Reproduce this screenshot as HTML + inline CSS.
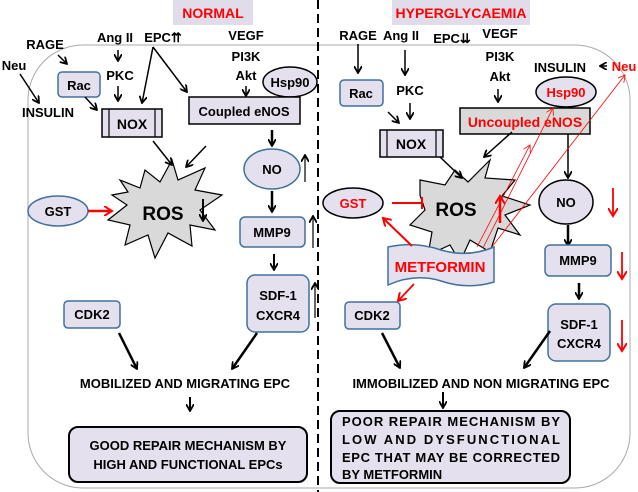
<!DOCTYPE html>
<html><head><meta charset="utf-8"><style>
html,body{margin:0;padding:0;background:#fff;width:638px;height:492px;overflow:hidden}
svg text{font-family:"Liberation Sans",sans-serif;font-weight:bold}
</style></head><body>
<svg width="638" height="492" viewBox="0 0 638 492" xmlns="http://www.w3.org/2000/svg" font-size="13">
<defs>
<marker id="a" markerWidth="8" markerHeight="8" refX="7" refY="4" orient="auto" markerUnits="userSpaceOnUse"><path d="M0,0 L7,4 L0,8" fill="none" stroke="#000" stroke-width="1.8"/></marker>
<marker id="r" markerWidth="10" markerHeight="10" refX="8" refY="5" orient="auto" markerUnits="userSpaceOnUse"><path d="M0,0 L8,5 L0,10" fill="none" stroke="#f00" stroke-width="2"/></marker>
<marker id="rt" markerWidth="8" markerHeight="8" refX="7" refY="4" orient="auto" markerUnits="userSpaceOnUse"><path d="M0,0 L7,4 L0,8" fill="none" stroke="#f00" stroke-width="0.8"/></marker>
</defs>
<rect x="28" y="45" width="602" height="443" rx="55" fill="none" stroke="#aaa" stroke-width="1"/>
<line x1="318" y1="0" x2="318" y2="492" stroke="#000" stroke-width="2" stroke-dasharray="9,5"/>

<!-- LEFT -->
<rect x="173" y="0" width="80" height="25" fill="#e0dcea"/>
<text x="213" y="18" text-anchor="middle" fill="#f00" style="font-size:14px">NORMAL</text>
<text x="45" y="49" text-anchor="middle">RAGE</text>
<text x="14" y="70" text-anchor="middle">Neu</text>
<text x="48" y="117" text-anchor="middle">INSULIN</text>
<line x1="20" y1="74" x2="39" y2="103" stroke="#000" stroke-width="1.5" marker-end="url(#a)"/>
<line x1="58" y1="55" x2="67" y2="64" stroke="#000" stroke-width="1.5" marker-end="url(#a)"/>
<rect x="58" y="72" width="42" height="25" rx="4" fill="#e4e0ee" stroke="#41719c" stroke-width="1.5"/>
<text x="79" y="90" text-anchor="middle">Rac</text>
<text x="115" y="42" text-anchor="middle">Ang II</text>
<line x1="118" y1="50" x2="118" y2="61" stroke="#000" stroke-width="1.5" marker-end="url(#a)"/>
<text x="120" y="80" text-anchor="middle">PKC</text>
<line x1="118" y1="86" x2="118" y2="101" stroke="#000" stroke-width="1.5" marker-end="url(#a)"/>
<line x1="85" y1="97" x2="97" y2="110" stroke="#000" stroke-width="1.5" marker-end="url(#a)"/>
<rect x="102" y="109" width="60" height="28" fill="#e4e0ee" stroke="#000" stroke-width="1.5"/>
<line x1="109" y1="109" x2="109" y2="137" stroke="#000" stroke-width="1.2"/>
<line x1="155" y1="109" x2="155" y2="137" stroke="#000" stroke-width="1.2"/>
<text x="132" y="129" text-anchor="middle" style="font-size:14px">NOX</text>
<text x="163" y="42" text-anchor="middle">EPC⇈</text>
<line x1="153" y1="47" x2="142" y2="103" stroke="#000" stroke-width="1.5" marker-end="url(#a)"/>
<line x1="153" y1="47" x2="187" y2="92" stroke="#000" stroke-width="1.5" marker-end="url(#a)"/>
<text x="246" y="40" text-anchor="middle">VEGF</text>
<text x="246" y="61" text-anchor="middle">PI3K</text>
<text x="246" y="80" text-anchor="middle">Akt</text>
<line x1="246" y1="86" x2="246" y2="96" stroke="#000" stroke-width="1.5" marker-end="url(#a)"/>
<ellipse cx="290" cy="82" rx="27" ry="15" fill="#e4e0ee" stroke="#000" stroke-width="1.5"/>
<text x="290" y="87" text-anchor="middle">Hsp90</text>
<rect x="189" y="97" width="111" height="27" fill="#e4e0ee" stroke="#000" stroke-width="1.5"/>
<text x="244" y="116" text-anchor="middle">Coupled eNOS</text>
<line x1="272" y1="130" x2="272" y2="146" stroke="#000" stroke-width="2.5" marker-end="url(#a)"/>
<ellipse cx="272" cy="169" rx="28" ry="20" fill="#e4e0ee" stroke="#41719c" stroke-width="1.5"/>
<text x="272" y="174" text-anchor="middle">NO</text>
<line x1="305" y1="182" x2="305" y2="155" stroke="#000" stroke-width="1.2" marker-end="url(#a)"/>
<line x1="272" y1="191" x2="272" y2="212" stroke="#000" stroke-width="2.5" marker-end="url(#a)"/>
<rect x="240" y="217" width="65" height="30" rx="5" fill="#e4e0ee" stroke="#41719c" stroke-width="1.5"/>
<text x="272" y="237" text-anchor="middle">MMP9</text>
<line x1="313" y1="248" x2="313" y2="216" stroke="#000" stroke-width="1.2" marker-end="url(#a)"/>
<line x1="274" y1="254" x2="274" y2="270" stroke="#000" stroke-width="2" marker-end="url(#a)"/>
<rect x="247" y="275" width="62" height="57" rx="8" fill="#e4e0ee" stroke="#41719c" stroke-width="1.5"/>
<text x="278" y="300" text-anchor="middle">SDF-1</text>
<text x="278" y="320" text-anchor="middle">CXCR4</text>
<line x1="315" y1="318" x2="315" y2="283" stroke="#000" stroke-width="1.2" marker-end="url(#a)"/>
<polygon points="120,180 140,188 145,170 160,182 172,160 178,180 205,168 195,190 222,195 200,210 215,230 190,225 192,246 168,233 155,258 148,235 125,245 130,225 108,220 127,205 112,195 128,192" fill="#d9d9d9" stroke="#000" stroke-width="1.2"/>
<text x="163" y="220" text-anchor="middle" style="font-size:19px">ROS</text>
<line x1="203" y1="199" x2="203" y2="221" stroke="#000" stroke-width="2" marker-end="url(#a)"/>
<line x1="153" y1="141" x2="172" y2="165" stroke="#000" stroke-width="1.5" marker-end="url(#a)"/>
<line x1="206" y1="146" x2="186" y2="167" stroke="#000" stroke-width="1.5" marker-end="url(#a)"/>
<ellipse cx="58" cy="211" rx="30" ry="15" fill="#e4e0ee" stroke="#41719c" stroke-width="1.5"/>
<text x="58" y="216" text-anchor="middle">GST</text>
<line x1="88" y1="211" x2="112" y2="211" stroke="#f00" stroke-width="2.5" marker-end="url(#r)"/>
<rect x="64" y="301" width="56" height="27" rx="4" fill="#e4e0ee" stroke="#41719c" stroke-width="1.5"/>
<text x="92" y="319" text-anchor="middle">CDK2</text>
<line x1="119" y1="333" x2="137" y2="369" stroke="#000" stroke-width="2.5" marker-end="url(#a)"/>
<line x1="257" y1="333" x2="232" y2="369" stroke="#000" stroke-width="2.5" marker-end="url(#a)"/>
<text x="185" y="388" text-anchor="middle">MOBILIZED AND MIGRATING EPC</text>
<line x1="190" y1="397" x2="190" y2="411" stroke="#000" stroke-width="2" marker-end="url(#a)"/>
<rect x="69" y="427" width="238" height="55" rx="9" fill="#e4e0ee" stroke="#000" stroke-width="2"/>
<text x="188" y="450" text-anchor="middle">GOOD REPAIR MECHANISM BY</text>
<text x="188" y="469" text-anchor="middle">HIGH AND FUNCTIONAL EPCs</text>

<!-- RIGHT -->
<rect x="392" y="0" width="138" height="25" fill="#e0dcea"/>
<text x="461" y="18" text-anchor="middle" fill="#f00" style="font-size:14px">HYPERGLYCAEMIA</text>
<text x="358" y="40" text-anchor="middle">RAGE</text>
<line x1="358" y1="44" x2="358" y2="73" stroke="#000" stroke-width="1.5" marker-end="url(#a)"/>
<rect x="340" y="80" width="43" height="26" rx="4" fill="#e4e0ee" stroke="#41719c" stroke-width="1.5"/>
<text x="361" y="98" text-anchor="middle">Rac</text>
<text x="401" y="40" text-anchor="middle">Ang II</text>
<line x1="405" y1="50" x2="405" y2="75" stroke="#000" stroke-width="1.5" marker-end="url(#a)"/>
<text x="410" y="95" text-anchor="middle">PKC</text>
<line x1="410" y1="103" x2="410" y2="119" stroke="#000" stroke-width="1.5" marker-end="url(#a)"/>
<line x1="388" y1="112" x2="399" y2="123" stroke="#000" stroke-width="1.5" marker-end="url(#a)"/>
<text x="452" y="43" text-anchor="middle">EPC⇊</text>
<text x="500" y="38" text-anchor="middle">VEGF</text>
<text x="500" y="61" text-anchor="middle">PI3K</text>
<text x="500" y="81" text-anchor="middle">Akt</text>
<line x1="498" y1="89" x2="498" y2="102" stroke="#000" stroke-width="1.5" marker-end="url(#a)"/>
<text x="560" y="72" text-anchor="middle">INSULIN</text>
<line x1="607" y1="66" x2="600" y2="66" stroke="#000" stroke-width="1.5" marker-end="url(#a)"/>
<text x="624" y="71" text-anchor="middle" fill="#f00">Neu</text>
<ellipse cx="566" cy="92" rx="30" ry="15" fill="#e4e0ee" stroke="#000" stroke-width="1.5"/>
<text x="566" y="97" text-anchor="middle" fill="#f00">Hsp90</text>
<rect x="460" y="108" width="130" height="26" fill="#d9d9d9" stroke="#000" stroke-width="1.5"/>
<text x="525" y="127" text-anchor="middle" fill="#f00" style="font-size:14px">Uncoupled eNOS</text>
<rect x="380" y="130" width="63" height="27" fill="#e4e0ee" stroke="#000" stroke-width="1.5"/>
<line x1="387" y1="130" x2="387" y2="157" stroke="#000" stroke-width="1.2"/>
<line x1="436" y1="130" x2="436" y2="157" stroke="#000" stroke-width="1.2"/>
<text x="411" y="149" text-anchor="middle" style="font-size:14px">NOX</text>
<polygon points="420,180 445,185 455,170 468,182 490,160 485,178 515,180 502,196 530,205 505,215 520,235 498,228 490,252 470,240 460,262 450,245 428,255 432,232 410,225 425,210 420,195" fill="#d9d9d9" stroke="#000" stroke-width="1.2"/>
<text x="456" y="216" text-anchor="middle" style="font-size:19px">ROS</text>
<line x1="500" y1="223" x2="500" y2="196" stroke="#f00" stroke-width="2.5" marker-end="url(#r)"/>
<line x1="440" y1="157" x2="462" y2="178" stroke="#000" stroke-width="1.5" marker-end="url(#a)"/>
<line x1="512" y1="132" x2="484" y2="157" stroke="#000" stroke-width="1.5" marker-end="url(#a)"/>
<line x1="568" y1="134" x2="568" y2="178" stroke="#000" stroke-width="1.5" marker-end="url(#a)"/>
<ellipse cx="566" cy="202" rx="27" ry="22" fill="#e4e0ee" stroke="#000" stroke-width="1.5"/>
<text x="566" y="207" text-anchor="middle">NO</text>
<line x1="613" y1="188" x2="613" y2="216" stroke="#f00" stroke-width="1.8" marker-end="url(#r)"/>
<ellipse cx="353" cy="203" rx="30" ry="15" fill="#e4e0ee" stroke="#000" stroke-width="1.5"/>
<text x="353" y="208" text-anchor="middle" fill="#f00">GST</text>
<line x1="392" y1="203" x2="421" y2="203" stroke="#f00" stroke-width="2"/>
<line x1="422" y1="197" x2="422" y2="209" stroke="#f00" stroke-width="2"/>
<line x1="477" y1="247" x2="530" y2="145" stroke="#f00" stroke-width="0.8" marker-end="url(#rt)"/>
<line x1="483" y1="248" x2="553" y2="108" stroke="#f00" stroke-width="0.8" marker-end="url(#rt)"/>
<line x1="488" y1="252" x2="625" y2="75" stroke="#f00" stroke-width="0.8" marker-end="url(#rt)"/>
<path d="M388,247 Q415,241 441,250 Q468,258 494,247 L494,282 Q468,290 441,281 Q415,273 388,285 Z" fill="#e4e0ee" stroke="#41719c" stroke-width="1.5"/>
<text x="440" y="272" text-anchor="middle" fill="#f00" style="font-size:15px">METFORMIN</text>
<line x1="412" y1="246" x2="383" y2="218" stroke="#f00" stroke-width="2" marker-end="url(#r)"/>
<line x1="414" y1="284" x2="398" y2="301" stroke="#f00" stroke-width="1.8" marker-end="url(#r)"/>
<line x1="568" y1="225" x2="568" y2="246" stroke="#000" stroke-width="2.5" marker-end="url(#a)"/>
<rect x="545" y="245" width="66" height="31" rx="5" fill="#e4e0ee" stroke="#41719c" stroke-width="1.5"/>
<text x="578" y="265" text-anchor="middle">MMP9</text>
<line x1="622" y1="252" x2="622" y2="279" stroke="#f00" stroke-width="1.8" marker-end="url(#r)"/>
<line x1="579" y1="283" x2="579" y2="299" stroke="#000" stroke-width="2.5" marker-end="url(#a)"/>
<rect x="548" y="304" width="62" height="57" rx="8" fill="#e4e0ee" stroke="#41719c" stroke-width="1.5"/>
<text x="579" y="329" text-anchor="middle">SDF-1</text>
<text x="579" y="348" text-anchor="middle">CXCR4</text>
<line x1="622" y1="320" x2="622" y2="351" stroke="#f00" stroke-width="1.8" marker-end="url(#r)"/>
<rect x="345" y="302" width="55" height="27" rx="4" fill="#e4e0ee" stroke="#41719c" stroke-width="1.5"/>
<text x="372" y="320" text-anchor="middle">CDK2</text>
<line x1="382" y1="333" x2="400" y2="368" stroke="#000" stroke-width="2.5" marker-end="url(#a)"/>
<line x1="550" y1="331" x2="524" y2="368" stroke="#000" stroke-width="2.5" marker-end="url(#a)"/>
<text x="481" y="388" text-anchor="middle">IMMOBILIZED AND NON MIGRATING EPC</text>
<line x1="443" y1="392" x2="443" y2="408" stroke="#000" stroke-width="2" marker-end="url(#a)"/>
<rect x="331" y="411" width="239" height="72" rx="9" fill="#e4e0ee" stroke="#000" stroke-width="2"/>
<text x="342" y="426" textLength="218" lengthAdjust="spacing">POOR REPAIR MECHANISM BY</text>
<text x="342" y="444" textLength="218" lengthAdjust="spacing">LOW AND DYSFUNCTIONAL</text>
<text x="342" y="462" textLength="218" lengthAdjust="spacing">EPC THAT MAY BE CORRECTED</text>
<text x="342" y="479">BY METFORMIN</text>
</svg>
</body></html>
